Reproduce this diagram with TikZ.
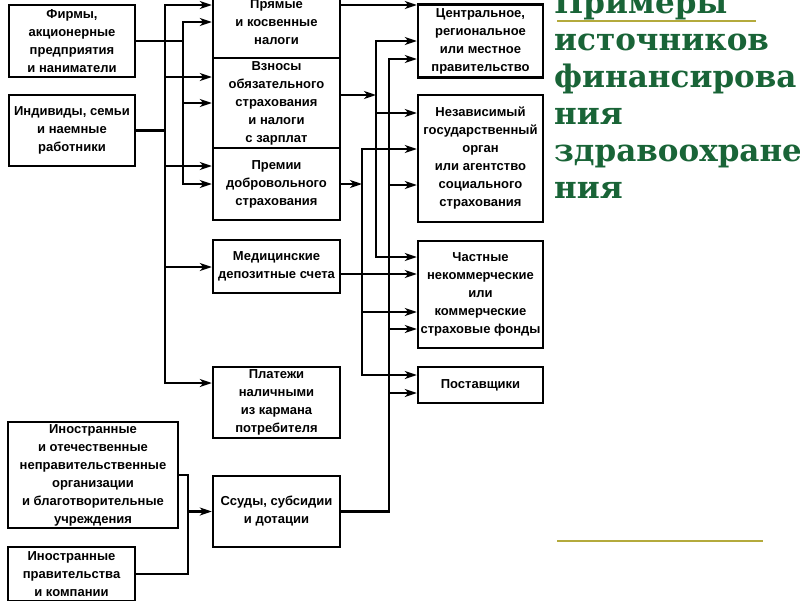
\documentclass[tikz,border=0pt]{standalone}
\usepackage{fontspec}
\setmainfont{Liberation Sans}
\newfontfamily\titlefont{DejaVu Serif}
\usetikzlibrary{arrows.meta}
\definecolor{titlegreen}{RGB}{25,100,55}
\definecolor{linegold}{RGB}{180,170,60}

\begin{document}
\begin{tikzpicture}[x=1pt, y=-1pt, >={Stealth[length=12pt,width=8pt,inset=3.5pt]},
    line width=2.4pt, line cap=rect,
    box/.style={draw, line width=2.4pt, align=center, inner sep=0pt,
      font=\fontsize{13}{18}\selectfont\bfseries}]
  \useasboundingbox (0,0) rectangle (800,600);

  % Источники средств
  \node[box, minimum width=126, minimum height=72] (firms) at (72,41) {Фирмы,\\акционерные\\предприятия\\и наниматели};
  \node[box, minimum width=126, minimum height=71] (indiv) at (72,130.5) {Индивиды, семьи\\и наемные\\работники};
  \node[box, minimum width=170, minimum height=106] (ngo) at (93,475) {Иностранные\\и отечественные\\неправительственные\\организации\\и благотворительные\\учреждения};
  \node[box, minimum width=127, minimum height=54] (fgov) at (71.5,574) {Иностранные\\правительства\\и компании};

  % Формы платежей
  \node[box, minimum width=127, minimum height=72] (taxes) at (276.5,22) {Прямые\\и косвенные\\налоги};
  \node[box, minimum width=127, minimum height=90] (contrib) at (276.5,103) {Взносы\\обязательного\\страхования\\и налоги\\с зарплат};
  \node[box, minimum width=127, minimum height=72] (prem) at (276.5,184) {Премии\\добровольного\\страхования};
  \node[box, minimum width=127, minimum height=53] (msa) at (276.5,266.5) {Медицинские\\депозитные счета};
  \node[box, minimum width=127, minimum height=71] (cash) at (276.5,402.5) {Платежи\\наличными\\из кармана\\потребителя};
  \node[box, minimum width=127, minimum height=71] (loans) at (276.5,511.5) {Ссуды, субсидии\\и дотации};

  % Получатели
  \node[box, minimum width=125, minimum height=73] (gov) at (480.5,41) {Центральное,\\региональное\\или местное\\правительство};
  \node[box, minimum width=125, minimum height=127] (agency) at (480.5,158.5) {Независимый\\государственный\\орган\\или агентство\\социального\\страхования};
  \node[box, minimum width=125, minimum height=107] (private) at (480.5,294.5) {Частные\\некоммерческие\\или\\коммерческие\\страховые фонды};
  \node[box, minimum width=125, minimum height=36] (suppliers) at (480.5,385) {Поставщики};

  % Заголовок
  \node[anchor=base west, inner sep=0pt, align=left, text=titlegreen,
    font=\titlefont\bfseries\fontsize{31}{37}\selectfont] (title) at (553,198)
    {Примеры\\источников\\финансирова\\ния\\здравоохране\\ния};
  \draw[linegold, line width=2pt] (558,21) -- (755,21);
  \draw[linegold, line width=2pt] (558,541) -- (762,541);

  % Шины
  \coordinate (busA) at (165,0);
  \coordinate (busB) at (183,0);
  \coordinate (busC) at (376,0);
  \coordinate (busD) at (362,0);
  \coordinate (busE) at (389,0);
  \coordinate (busF) at (188,0);

  % Слева
  \draw (indiv.east) -- (indiv.east -| busA);
  \draw (firms.east) -- (firms.east -| busB);
  \draw[->] (busA |- 0,5) -- (busA |- 0,383) -- (cash.west |- 0,383);
  \draw[->] (busB |- 0,22) -- (busB |- 0,184) -- (prem.west |- 0,184);
  \foreach \yy/\tgt in {5/taxes,77/contrib,166/prem,267/msa}
    \draw[->] (busA |- 0,\yy) -- (\tgt.west |- 0,\yy);
  \foreach \yy/\tgt in {22/taxes,103/contrib}
    \draw[->] (busB |- 0,\yy) -- (\tgt.west |- 0,\yy);

  % Справа
  \draw[->] (taxes.east |- 0,5) -- (gov.west |- 0,5);
  \draw[->] (contrib.east |- 0,95) -- (busC |- 0,95);
  \draw[->] (prem.east) -- (prem.east -| busD);
  \draw[->] (msa.east |- 0,274) -- (private.west |- 0,274);
  \draw[->] (busC |- 0,41) -- (busC |- 0,257) -- (private.west |- 0,257);
  \draw[->] (busD |- 0,149) -- (busD |- 0,375) -- (suppliers.west |- 0,375);
  \draw[->] (loans.east) -| (busE |- 0,59) -- (gov.west |- 0,59);
  \foreach \yy/\tgt in {41/gov,113/agency}
    \draw[->] (busC |- 0,\yy) -- (\tgt.west |- 0,\yy);
  \foreach \yy/\tgt in {149/agency,312/private}
    \draw[->] (busD |- 0,\yy) -- (\tgt.west |- 0,\yy);
  \foreach \yy/\tgt in {185/agency,329/private,393/suppliers}
    \draw[->] (busE |- 0,\yy) -- (\tgt.west |- 0,\yy);

  % Снизу
  \draw (ngo.east) -| (busF |- fgov.east) -- (fgov.east);
  \draw[->] (busF |- loans.west) -- (loans.west);
\end{tikzpicture}
\end{document}
